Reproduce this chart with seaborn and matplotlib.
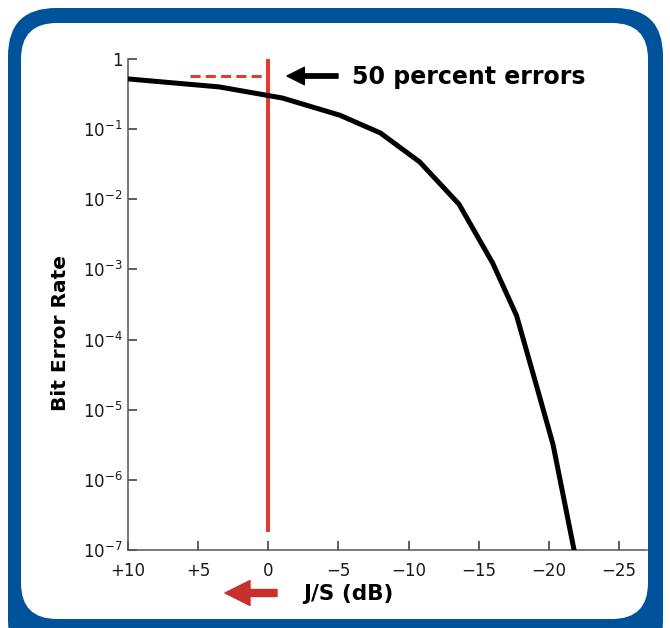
import matplotlib
matplotlib.use('Agg')
import numpy as np
import pandas as pd
import seaborn as sns
import matplotlib.pyplot as plt
from matplotlib.patches import FancyBboxPatch
from matplotlib.ticker import NullLocator, FixedLocator, FixedFormatter
from matplotlib.transforms import IdentityTransform

# ---- data ----
js_db = [10, 3.5, -1.0, -5.1, -8.0, -10.8, -13.6, -16.0, -17.7, -19.15, -20.3, -21.8]
ber = [0.52, 0.40, 0.278, 0.158, 0.088, 0.034, 0.0085, 0.00123, 2.2e-4, 2.1e-5, 3.2e-6, 1.0e-7]

x_ticks = [10, 5, 0, -5, -10, -15, -20, -25]
x_labels = ['+10', '+5', '0', '\u22125', '\u221210', '\u221215', '\u221220', '\u221225']
y_ticks = [1, 1e-1, 1e-2, 1e-3, 1e-4, 1e-5, 1e-6, 1e-7]
y_labels = ['1', r'$10^{-1}$', r'$10^{-2}$', r'$10^{-3}$', r'$10^{-4}$',
            r'$10^{-5}$', r'$10^{-6}$', r'$10^{-7}$']

threshold_db = 0
threshold_top = 1.0
threshold_bottom = 1.8e-7
half_level = 0.57
half_start_db = 5.6

RED = '#e83a2c'
DARKRED = '#c8302e'
BLUE = '#00529b'
SPINE = '#555555'

sns.set_style('white')
plt.rcParams['font.family'] = ['DejaVu Sans']
plt.rcParams['mathtext.default'] = 'regular'

W, H = 670, 628
fig = plt.figure(figsize=(W / 100, H / 100), dpi=100)
fig.patch.set_facecolor('white')

# rounded frame
outer = FancyBboxPatch((8, -40), 655, 660, boxstyle='round,pad=0,rounding_size=48',
                       transform=IdentityTransform(), facecolor=BLUE, edgecolor='none', zorder=-10)
inner = FancyBboxPatch((21, 9), 627, 596, boxstyle='round,pad=0,rounding_size=36',
                       transform=IdentityTransform(), facecolor='white', edgecolor='none', zorder=-9)
fig.patches.extend([outer, inner])

ax = fig.add_axes([128 / W, 78 / H, 519 / W, 491 / H])
ax.patch.set_alpha(0)

df = pd.DataFrame({'js': js_db, 'ber': ber})
sns.lineplot(data=df, x='js', y='ber', ax=ax, color='black', lw=3.6,
             sort=False, estimator=None, zorder=3)

ax.set_yscale('log')
ax.set_ylim(1e-7, 1)
ax.set_xlim(10, -27)

# threshold lines
ax.vlines(threshold_db, threshold_bottom, threshold_top, color=RED, lw=2.9, zorder=2)
ax.hlines(half_level, half_start_db, threshold_db, color=RED, lw=2.2,
          linestyles=(0, (3.3, 1.7)), zorder=2)

# axes styling
for s in ['top', 'right']:
    ax.spines[s].set_visible(False)
for s in ['left', 'bottom']:
    ax.spines[s].set_color(SPINE)
    ax.spines[s].set_linewidth(1.1)

ax.yaxis.set_major_locator(FixedLocator(y_ticks))
ax.yaxis.set_major_formatter(FixedFormatter(y_labels))
ax.yaxis.set_minor_locator(NullLocator())
ax.xaxis.set_major_locator(FixedLocator(x_ticks))
ax.xaxis.set_major_formatter(FixedFormatter(x_labels))
ax.tick_params(axis='both', which='major', direction='in', length=6.5, width=1.1,
               color='#333333', labelsize=12, labelcolor='#1a1a1a',
               bottom=True, left=True)
ax.tick_params(axis='y', pad=4)
ax.tick_params(axis='x', pad=9)
ax.set_xlabel('')
ax.set_ylabel('')

# labels
fig.text(61 / W, 1 - 333 / H, 'Bit Error Rate', rotation=90, ha='center', va='center',
         fontsize=14.5, fontweight='bold', color='black')
fig.text(303 / W, 1 - 594 / H, 'J/S (dB)', ha='left', va='center',
         fontsize=15.5, fontweight='bold', color='black')
fig.text(352 / W, 1 - 77 / H, '50 percent errors', ha='left', va='center',
         fontsize=17, fontweight='bold', color='black')

# arrows
ax.annotate('', xy=(287, H - 76), xycoords='figure pixels',
            xytext=(338, H - 76), textcoords='figure pixels',
            arrowprops=dict(arrowstyle='simple,head_length=1.0,head_width=1.0,tail_width=0.25',
                            mutation_scale=12.5, color='black', shrinkA=0, shrinkB=0))
ax.annotate('', xy=(225, H - 593), xycoords='figure pixels',
            xytext=(277, H - 593), textcoords='figure pixels',
            arrowprops=dict(arrowstyle='simple,head_length=1.0,head_width=1.0,tail_width=0.28',
                            mutation_scale=18, color=DARKRED, shrinkA=0, shrinkB=0),
            annotation_clip=False)

fig.savefig('out.png', dpi=100, facecolor='white')
